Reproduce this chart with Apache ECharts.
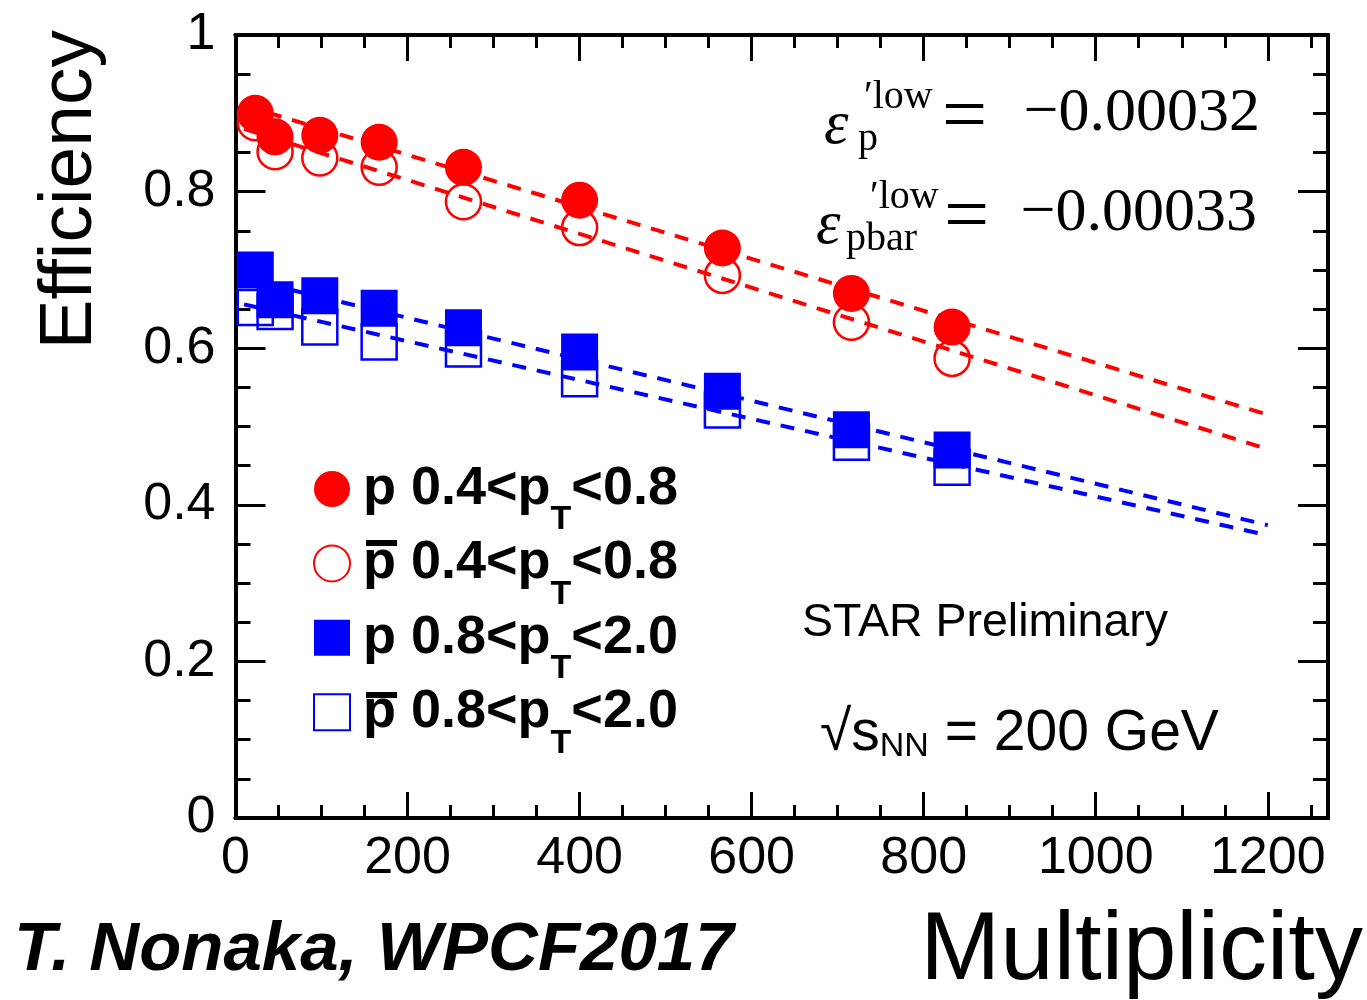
<!DOCTYPE html>
<html>
<head>
<meta charset="utf-8">
<script src="https://cdn.jsdelivr.net/npm/echarts@6/dist/echarts.min.js"></script>
<style>
  html, body { margin: 0; padding: 0; background: #ffffff; }
  #chart { width: 1367px; height: 1000px; }
</style>
</head>
<body>
<div id="chart"></div>
<script>
// Multiplicity bins and measured efficiencies
const multiplicity = [23, 46, 98, 167, 265, 400, 566, 716, 833];
const protonLowPt = [0.900, 0.870, 0.872, 0.863, 0.831, 0.789, 0.728, 0.670, 0.627];
const antiprotonLowPt = [0.888, 0.851, 0.843, 0.831, 0.787, 0.754, 0.693, 0.633, 0.587];
const protonHighPt = [0.700, 0.662, 0.667, 0.651, 0.626, 0.595, 0.545, 0.496, 0.470];
const antiprotonHighPt = [0.652, 0.647, 0.627, 0.608, 0.599, 0.561, 0.521, 0.480, 0.448];

// Linear fits, evaluated at the two ends of the fit range
const fitRange = [10, 1200];
const fitProtonLowPt = [0.910, 0.515];
const fitAntiprotonLowPt = [0.880, 0.471];
const fitProtonHighPt = [0.689, 0.374];
const fitAntiprotonHighPt = [0.656, 0.361];

// Tick labels
const xTickLabels = ['0', '200', '400', '600', '800', '1000', '1200'];
const yTickLabels = ['0', '0.2', '0.4', '0.6', '0.8', '1'];

// Legend entries: series name -> pT range
const seriesNames = ['p 0.4<pT<0.8', 'pbar 0.4<pT<0.8', 'p 0.8<pT<2.0', 'pbar 0.8<pT<2.0'];
const ptRanges = [['0.4', '0.8'], ['0.4', '0.8'], ['0.8', '2.0'], ['0.8', '2.0']];

const RED = '#ff0000';
const BLUE = '#0000ff';
const SANS = '"Liberation Sans", Arial, Helvetica, sans-serif';
const SERIF = '"Liberation Serif", "Times New Roman", serif';

const zip = (xs, ys) => xs.map((x, i) => [x, ys[i]]);

function fitLine(values, color) {
  return {
    type: 'line',
    data: zip(fitRange, values),
    symbol: 'none',
    silent: true,
    z: 2,
    lineStyle: { color: color, width: 4, type: [14, 11], opacity: 1 }
  };
}

function markers(name, values, symbol, color, filled) {
  return {
    type: 'scatter',
    name: name,
    data: zip(multiplicity, values),
    symbol: symbol,
    symbolSize: filled ? 37 : 35,
    z: filled ? 4 : 3,
    itemStyle: filled
      ? { color: color, opacity: 1 }
      : { color: 'rgba(0,0,0,0)', borderColor: color, borderWidth: 2.5, opacity: 1 }
  };
}

const axisLine = { show: true, onZero: false, lineStyle: { color: '#000', width: 4 } };

function xAxis(position, interval, tickLen, labels) {
  return {
    type: 'value', position: position, min: 0, max: 1270, interval: interval,
    axisLine: axisLine,
    axisTick: { show: true, inside: true, length: tickLen, lineStyle: { color: '#000', width: 3 } },
    axisLabel: labels ? {
      show: true, margin: 15, color: '#000', fontFamily: SANS, fontSize: 52,
      showMaxLabel: false,
      formatter: v => (v % 200 === 0 ? xTickLabels[v / 200] : '')
    } : { show: false },
    splitLine: { show: false }
  };
}

function yAxis(position, labels) {
  return {
    type: 'value', position: position, min: 0, max: 1, interval: 0.2,
    axisLine: axisLine,
    axisTick: { show: true, inside: true, length: 30, lineStyle: { color: '#000', width: 3 } },
    minorTick: { show: true, splitNumber: 4, length: 15, lineStyle: { color: '#000', width: 3 } },
    axisLabel: labels ? {
      show: true, margin: 20, color: '#000', fontFamily: SANS, fontSize: 52,
      formatter: v => yTickLabels[Math.round(v / 0.2)]
    } : { show: false },
    splitLine: { show: false }
  };
}

function text(x, y, str, font, align, extra) {
  return Object.assign({
    type: 'text', x: x, y: y, silent: true,
    style: {
      text: str, font: font, fill: '#000',
      align: align, textAlign: align,
      verticalAlign: 'middle', textVerticalAlign: 'middle'
    }
  }, extra || {});
}

const chart = echarts.init(document.getElementById('chart'), null, { renderer: 'canvas' });

chart.setOption({
  animation: false,
  backgroundColor: '#ffffff',
  grid: { left: 235.5, top: 35, right: 39, bottom: 182, containLabel: false },
  xAxis: [
    xAxis('bottom', 200, 26, true),
    xAxis('bottom', 50, 13, false),
    xAxis('top', 200, 26, false),
    xAxis('top', 50, 13, false)
  ],
  yAxis: [yAxis('left', true), yAxis('right', false)],
  legend: {
    data: seriesNames,
    orient: 'vertical',
    left: 313, top: 441, padding: 0,
    itemWidth: 36, itemHeight: 36, itemGap: -21.6,
    selectedMode: false,
    formatter: name => {
      const r = ptRanges[seriesNames.indexOf(name)];
      return '{s|p 0.4<p}'.replace('0.4', r[0]) + '{t|T}{a|<' + r[1] + '}';
    },
    textStyle: {
      color: '#000', fontFamily: SANS, fontWeight: 'bold', fontSize: 54,
      rich: {
        s: { fontFamily: SANS, fontWeight: 'bold', fontSize: 54, lineHeight: 52, padding: [0, 0, 0, 8] },
        a: { fontFamily: SANS, fontWeight: 'bold', fontSize: 54, lineHeight: 52 },
        t: { fontFamily: SANS, fontWeight: 'bold', fontSize: 34, lineHeight: 52, padding: [62, 0, 0, 0] }
      }
    }
  },
  series: [
    fitLine(fitProtonLowPt, RED),
    fitLine(fitAntiprotonLowPt, RED),
    fitLine(fitProtonHighPt, BLUE),
    fitLine(fitAntiprotonHighPt, BLUE),
    markers(seriesNames[1], antiprotonLowPt, 'circle', RED, false),
    markers(seriesNames[3], antiprotonHighPt, 'rect', BLUE, false),
    markers(seriesNames[0], protonLowPt, 'circle', RED, true),
    markers(seriesNames[2], protonHighPt, 'rect', BLUE, true)
  ],
  graphic: [
    // bars over the antiproton "p"
    { type: 'rect', silent: true, shape: { x: 366, y: 540, width: 31, height: 6 }, style: { fill: '#000' } },
    { type: 'rect', silent: true, shape: { x: 366, y: 692, width: 31, height: 6 }, style: { fill: '#000' } },

    // fit slopes
    text(824, 127, 'ε', 'italic 62px ' + SERIF, 'left'),
    text(864, 97, '′low', '40px ' + SERIF, 'left'),
    text(858, 139, 'p', '40px ' + SERIF, 'left'),
    text(942, 120, '=', '80px ' + SERIF, 'left'),
    text(1260, 114, '−0.00032', '62px ' + SERIF, 'right'),

    text(816, 227, 'ε', 'italic 62px ' + SERIF, 'left'),
    text(870, 197, '′low', '40px ' + SERIF, 'left'),
    text(846, 239, 'pbar', '40px ' + SERIF, 'left'),
    text(944, 220, '=', '80px ' + SERIF, 'left'),
    text(1257, 214, '−0.00033', '62px ' + SERIF, 'right'),

    text(802, 623, 'STAR Preliminary', '46.5px ' + SANS, 'left'),
    {
      type: 'text', x: 820, y: 734, silent: true,
      style: {
        text: '{m|√s}{n|NN}{m| = 200 GeV}',
        align: 'left', textAlign: 'left', verticalAlign: 'middle', textVerticalAlign: 'middle',
        fill: '#000',
        rich: {
          m: { fontFamily: SANS, fontSize: 57, lineHeight: 60, fill: '#000', color: '#000' },
          n: { fontFamily: SANS, fontSize: 34, lineHeight: 60, padding: [26, 0, 0, 0], fill: '#000', color: '#000' }
        }
      }
    },

    // axis titles and credit
    text(70, 30, 'Efficiency', '75px ' + SANS, 'right', { rotation: Math.PI / 2 }),
    text(1363, 953, 'Multiplicity', '96px ' + SANS, 'right'),
    text(14, 951, 'T. Nonaka, WPCF2017', 'italic bold 69px ' + SANS, 'left')
  ]
});
</script>
</body>
</html>
